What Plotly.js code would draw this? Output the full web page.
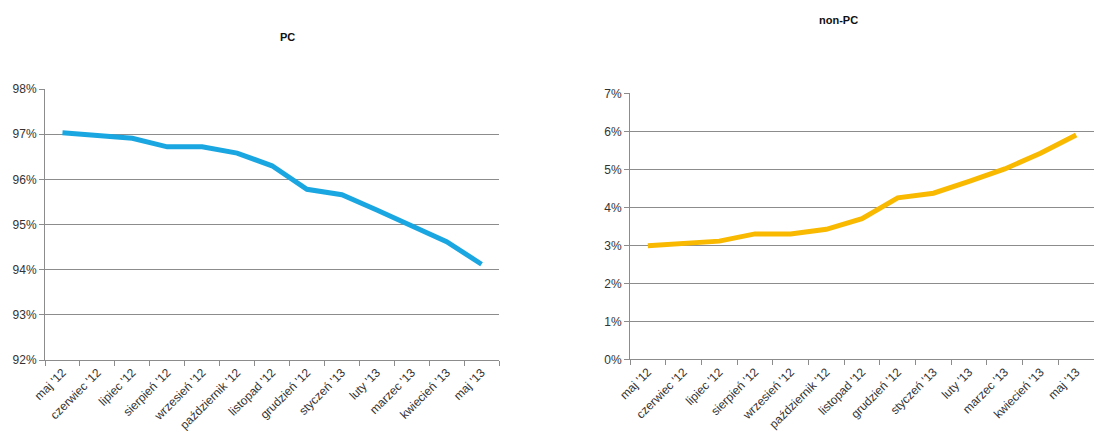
<!DOCTYPE html>
<html>
<head>
<meta charset="utf-8">
<script src="https://cdn.plot.ly/plotly-3.0.1.min.js"></script>
<style>html,body{margin:0;padding:0;background:#fff;}#chart{width:1094px;height:431px;}</style>
</head>
<body>
<div id="chart"></div>
<script>
const months = ["maj '12","czerwiec '12","lipiec '12","sierpień '12","wrzesień '12","październik '12","listopad '12","grudzień '12","styczeń '13","luty '13","marzec '13","kwiecień '13","maj '13"];
const pcShare = [97.03, 96.97, 96.91, 96.72, 96.72, 96.58, 96.30, 95.78, 95.66, 95.32, 94.97, 94.62, 94.12];
const nonPcShare = [2.99, 3.06, 3.11, 3.30, 3.30, 3.42, 3.70, 4.25, 4.37, 4.68, 5.01, 5.42, 5.90];
const titles = ["PC", "non-PC"];

const W = 1094, H = 431;
const tickFont = {family: "Liberation Sans, Arial, sans-serif", size: 12, color: "#333333"};
const grid = "#8c8c8c";

function xa(domain) {
  return {
    domain: domain, type: "category", range: [-0.5, 12.5],
    tickson: "boundaries", ticks: "outside", ticklen: 5, tickcolor: grid,
    showline: true, linecolor: grid, linewidth: 1, showgrid: false,
    tickangle: -45, tickfont: tickFont, zeroline: false, fixedrange: true
  };
}
function ya(domain, range, anchor) {
  return {
    domain: domain, range: range, dtick: 1, ticksuffix: "%",
    ticks: "outside", ticklen: 5, tickcolor: grid,
    showline: true, linecolor: grid, linewidth: 1,
    showgrid: true, gridcolor: grid, gridwidth: 1,
    zeroline: false, tickfont: tickFont, anchor: anchor, fixedrange: true
  };
}

const data = [
  {x: months, y: pcShare, type: "scatter", mode: "lines", xaxis: "x", yaxis: "y",
   line: {color: "#1AA7E1", width: 5}, hoverinfo: "skip"},
  {x: months, y: nonPcShare, type: "scatter", mode: "lines", xaxis: "x2", yaxis: "y2",
   line: {color: "#F9B900", width: 5}, hoverinfo: "skip"}
];

const layout = {
  width: W, height: H,
  margin: {l: 0, r: 0, t: 0, b: 0},
  paper_bgcolor: "#fff", plot_bgcolor: "#fff",
  showlegend: false,
  xaxis: xa([45 / W, 499 / W]),
  yaxis: ya([(H - 360) / H, (H - 89) / H], [92, 98], "x"),
  xaxis2: Object.assign(xa([630 / W, 1.0]), {anchor: "y2"}),
  yaxis2: ya([(H - 359.3) / H, (H - 93.3) / H], [0, 7], "x2"),
  annotations: [
    {text: "<b>" + titles[0] + "</b>", x: 287 / W, y: 1 - 37 / H, xref: "paper", yref: "paper",
     showarrow: false, xanchor: "center", yanchor: "middle",
     font: {family: "Liberation Sans, Arial, sans-serif", size: 11, color: "#111"}},
    {text: "<b>" + titles[1] + "</b>", x: 838 / W, y: 1 - 20 / H, xref: "paper", yref: "paper",
     showarrow: false, xanchor: "center", yanchor: "middle",
     font: {family: "Liberation Sans, Arial, sans-serif", size: 11, color: "#111"}}
  ]
};

Plotly.newPlot("chart", data, layout, {displayModeBar: false, staticPlot: true});
</script>
</body>
</html>
